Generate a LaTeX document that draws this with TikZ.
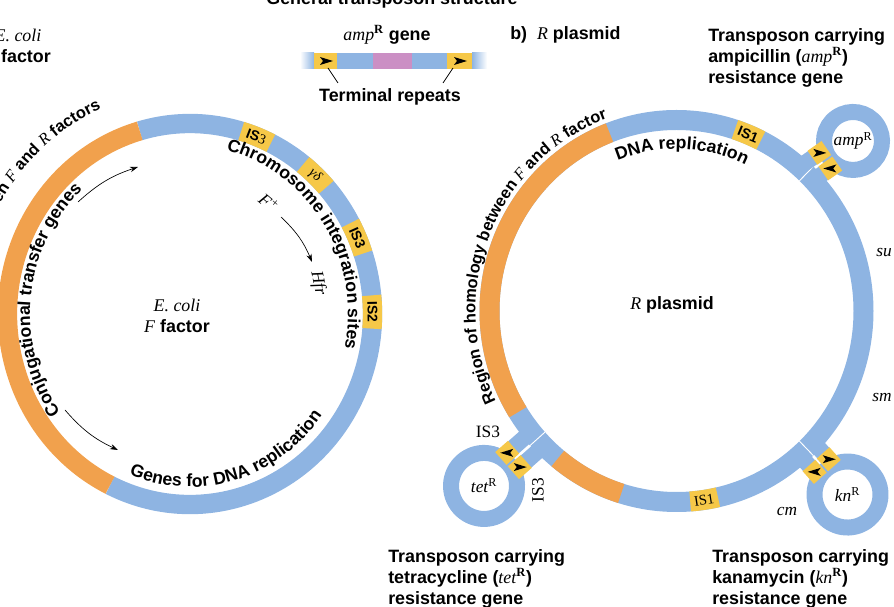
\documentclass[tikz,border=0pt]{standalone}
\usepackage{fontspec}
\setmainfont{Liberation Sans}
\newfontfamily\genefont{Liberation Serif}
\usepackage{tikz}
\usetikzlibrary{arrows.meta, decorations.text}
\usepackage{xcolor}
\definecolor{ringblue}{RGB}{142,180,226}
\definecolor{ringorange}{RGB}{241,161,77}
\definecolor{isyellow}{RGB}{246,200,72}
\definecolor{genepink}{RGB}{203,143,196}
\newcommand{\gene}[1]{{\genefont\itshape\mdseries #1}\textsuperscript{\genefont\upshape R}}
\newcommand{\lblfont}{\fontsize{13.2}{15}\selectfont\rmfamily\upshape\bfseries}
\newcommand{\lblfontsm}{\fontsize{12.3}{14}\selectfont\rmfamily\upshape\bfseries}
\newcommand{\itfontsm}{\fontsize{12.3}{14}\selectfont\genefont\itshape\mdseries}
\tikzset{
  lbl/.style={font=\fontsize{13.4}{15.75}\selectfont\bfseries, inner sep=0pt, align=left},
  isbox/.style={font=\fontsize{10.5}{12}\selectfont\bfseries, inner sep=0pt},
  gn/.style={font=\fontsize{13}{15}\selectfont\genefont\itshape, inner sep=0pt},
  rpt/.pic={\fill (-6,-4) -- (7,0) -- (-6,4) -- (-3,0) -- cycle;}
}
\begin{document}
\begin{tikzpicture}[x=0.75pt, y=0.75pt]
  \useasboundingbox (0,0) rectangle (894,607);
  % general transposon structure
  \node[lbl, anchor=base] (gts) at (392,602) {General transposon structure};
  \fill[left color=white, right color=ringblue] (300,538) rectangle (314,554);
  \fill[isyellow] (314,538) rectangle (337,554);
  \fill[ringblue] (337,538) rectangle (373,554);
  \fill[genepink] (373,538) rectangle (412,554);
  \fill[ringblue] (412,538) rectangle (447,554);
  \fill[isyellow] (447,538) rectangle (472,554);
  \fill[left color=ringblue, right color=white] (472,538) rectangle (487,554);
  \pic at (326,546) {rpt};
  \pic at (460,546) {rpt};
  \node[lbl] (ampgene) at (387,572) {\gene{amp} gene};
  \node[lbl] (trep) at (390,510) {Terminal repeats};
  \coordinate (tla) at (338,524); \coordinate (tl) at (328,539);
  \coordinate (tra) at (443,524); \coordinate (tr) at (453,539);
  \draw[line width=0.6pt] (tla) -- (tl) (tra) -- (tr);

  % a) F factor
  \node[lbl, align=center] (ecf) at (18,561) {{\genefont\itshape\mdseries E. coli}\\{\genefont\itshape\mdseries F} factor};
  \coordinate (fc) at (190,293);
  \draw[ringblue, line width=14.5pt] ([shift={(-116:182.5 and 190.5)}]fc) arc[start angle=-116, end angle=106, x radius=182.5, y radius=190.5];
  \draw[ringorange, line width=14.5pt] ([shift={(106:182.5 and 190.5)}]fc) arc[start angle=106, end angle=244, x radius=182.5, y radius=190.5];
  \foreach \a in {68.7, 46.7, 23.5, 0.6} {
    \draw[isyellow, line width=14.5pt] ([shift={(\a-5:182.5 and 190.5)}]fc) arc[start angle=\a-5, end angle=\a+5, x radius=182.5, y radius=190.5];
  }
  \node[isbox, rotate=-21] (fis3a) at ([shift={(68.7:182.5 and 190.5)}]fc) {IS{\genefont\mdseries 3}};
  \node[isbox, rotate=-43] (fgd) at ([shift={(46.7:182.5 and 190.5)}]fc) {\genefont\itshape\mdseries γδ};
  \node[isbox, rotate=-66] (fis3b) at ([shift={(23.5:182.5 and 190.5)}]fc) {IS3};
  \node[isbox, rotate=-89] (fis2) at ([shift={(0.6:182.5 and 190.5)}]fc) {IS2};
  \path[decorate, decoration={text along path, text align=right,
      text={|\lblfontsm|Region of homology between |\itfontsm|F|\lblfontsm| and |\itfontsm|R|\lblfontsm| factors}}]
    ([shift={(262:218 and 225)}]fc) arc[start angle=262, end angle=114, x radius=218, y radius=225];
  \path[decorate, decoration={text along path, text align=center,
      text={|\lblfont|Conjugational transfer genes}}]
    ([shift={(222:160 and 168)}]fc) arc[start angle=222, end angle=126, x radius=160, y radius=168];
  \path[decorate, decoration={text along path, text align=center,
      text={|\lblfont|Chromosome integration sites}}]
    ([shift={(79:158 and 168)}]fc) arc[start angle=79, end angle=-14, x radius=158, y radius=168];
  \path[decorate, decoration={text along path, text align=center,
      text={|\lblfont|Genes for DNA replication}}]
    ([shift={(238:163 and 173)}]fc) arc[start angle=238, end angle=334, x radius=163, y radius=173];
  \coordinate (a1s) at (78,405); \coordinate (a1e) at (138,440);
  \coordinate (a2s) at (65,197); \coordinate (a2e) at (118,157);
  \coordinate (a3s) at (281,390); \coordinate (a3e) at (312,345);
  \draw[line width=0.5pt, -{Stealth[length=6pt, width=4pt]}] (a1s) to[bend left=12] (a1e);
  \draw[line width=0.5pt, -{Stealth[length=6pt, width=4pt]}] (a2s) to[bend right=12] (a2e);
  \draw[line width=0.5pt, -{Stealth[length=6pt, width=4pt]}] (a3s) to[bend left=12] (a3e);
  \node[gn, rotate=-40] (fplus) at (269,404) {F\textsuperscript{+}};
  \node[gn, rotate=-78] (hfr) at (318,324) {Hfr};
  \node[lbl, align=center] (fname) at (177,291) {{\genefont\itshape\mdseries E. coli}\\{\genefont\itshape\mdseries F} factor};

  % b) R plasmid
  \node[lbl, anchor=west] (bttl) at (510,572) {b)\ \ {\genefont\itshape\mdseries R} plasmid};
  \coordinate (rc) at (676.5,296);
  \draw[ringblue, line width=15pt] (rc) ellipse[x radius=187, y radius=191];
  \draw[ringorange, line width=15pt] ([shift={(111:187 and 191)}]rc) arc[start angle=111, end angle=212, x radius=187, y radius=191];
  \draw[ringorange, line width=15pt] ([shift={(230.6:187 and 191)}]rc) arc[start angle=230.6, end angle=252.8, x radius=187, y radius=191];
  \foreach \a in {67.5, 278.5} {
    \draw[isyellow, line width=15pt] ([shift={(\a-4.3:187 and 191)}]rc) arc[start angle=\a-4.3, end angle=\a+4.3, x radius=187, y radius=191];
  }
  \node[isbox, rotate=-22.5] (ris1a) at ([shift={(67.5:187 and 191)}]rc) {IS1};
  \node[isbox, rotate=8.5, font=\fontsize{11}{12}\selectfont\genefont] (ris1b) at ([shift={(278.5:187 and 191)}]rc) {IS1};
  \foreach \a in {46, 222, 314} {
    \draw[white, line width=0.7pt] ([shift={(\a:177 and 181)}]rc) -- ([shift={(\a:197 and 201)}]rc);
  }
  \path[decorate, decoration={text along path, text align=center,
      text={|\lblfontsm|Region of homology between |\itfontsm|F|\lblfontsm| and |\itfontsm|R|\lblfontsm| factor}}]
    ([shift={(214:201 and 205)}]rc) arc[start angle=214, end angle=102, x radius=201, y radius=205];
  \path[decorate, decoration={text along path, text align=center,
      text={|\lblfont|DNA replication}}]
    ([shift={(118:158 and 162)}]rc) arc[start angle=118, end angle=58, x radius=158, y radius=162];
  \node[lbl] (rname) at (672,302) {{\genefont\itshape\mdseries R} plasmid};
  \node[gn] (su) at (884,354) {su};
  \node[gn] (sm) at (882,209) {sm};
  \node[gn] (cm) at (787,95) {cm};

  % transposon loops
  \begin{scope}[shift={(806.4,433.4)}, rotate=35]
    \draw[ringblue, line width=12pt] (56.9,0) circle[radius=29];
    \draw[ringblue, line width=12pt] (0,9.5) -- (31,9.5) (0,-9.5) -- (31,-9.5);
    \fill[isyellow] (14,1) rectangle (31,18) (14,-18) rectangle (31,-1);
    \pic at (22.5,9.5) {rpt};
    \pic[rotate=180] at (22.5,-9.5) {rpt};
    \node[gn] (ampr) at (56.9,0) {\gene{amp}};
  \end{scope}
  \begin{scope}[shift={(537.5,168.2)}, rotate=221.4]
    \draw[ringblue, line width=12pt] (71.3,0) circle[radius=33];
    \draw[ringblue, line width=12pt] (0,9.5) -- (41,9.5) (0,-9.5) -- (41,-9.5);
    \fill[isyellow] (23.5,1) rectangle (40.5,18) (23.5,-18) rectangle (40.5,-1);
    \pic at (32,9.5) {rpt};
    \pic[rotate=180] at (32,-9.5) {rpt};
    \node[gn] (tetr) at (71.3,0) {\gene{tet}};
  \end{scope}
  \begin{scope}[shift={(806.4,158.6)}, rotate=-48.3]
    \draw[ringblue, line width=12pt] (61.8,0) circle[radius=33];
    \draw[ringblue, line width=12pt] (0,9.5) -- (31,9.5) (0,-9.5) -- (31,-9.5);
    \fill[isyellow] (14.5,1) rectangle (31.5,18) (14.5,-18) rectangle (31.5,-1);
    \pic at (23,9.5) {rpt};
    \pic[rotate=180] at (23,-9.5) {rpt};
    \node[gn] (knr) at (61.8,0) {\gene{kn}};
  \end{scope}
  \node[gn, font=\fontsize{13}{15}\selectfont\genefont] (tis3a) at (488,175) {IS3};
  \node[gn, rotate=90, font=\fontsize{13}{15}\selectfont\genefont] (tis3b) at (538,117) {IS3};

  % transposon labels
  \node[lbl, anchor=north west] (amplbl) at (708,579) {Transposon carrying\\ampicillin (\gene{amp})\\resistance gene};
  \node[lbl, anchor=north west] (tetlbl) at (388,58) {Transposon carrying\\tetracycline (\gene{tet})\\resistance gene};
  \node[lbl, anchor=north west] (knlbl) at (712,58) {Transposon carrying\\kanamycin (\gene{kn})\\resistance gene};
\end{tikzpicture}
\end{document}
